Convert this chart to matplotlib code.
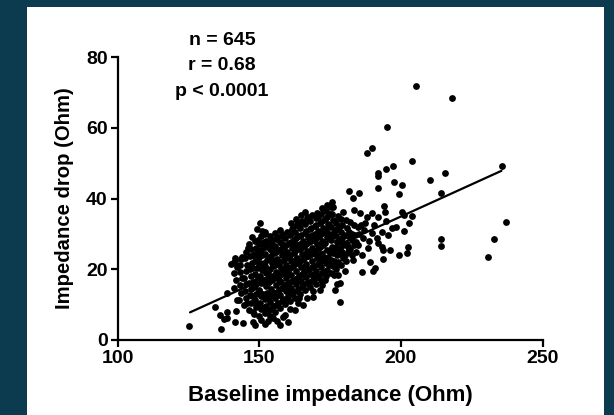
import matplotlib
matplotlib.use("Agg")
import matplotlib.pyplot as plt

plt.rcParams['font.family'] = ['Liberation Sans', 'DejaVu Sans']

# ---- data ----
core = [
    (141.2,14.6),(141.8,16.9),(141.0,18.8),(142.1,20.7),(141.6,22.3),
    (143.0,11.4),(143.6,13.2),(143.2,15.5),(143.9,17.4),(143.4,19.3),(143.1,21.2),(143.7,23.0),
    (144.8,9.8),(145.3,12.0),(145.0,13.9),(145.5,15.7),(144.7,17.6),(145.2,19.5),(145.6,21.3),(144.9,23.2),(145.4,24.9),
    (146.5,8.6),(147.1,10.5),(146.7,12.6),(147.2,14.3),(146.4,16.1),(147.0,18.2),(146.6,20.0),(147.3,21.9),(146.8,23.7),(147.1,25.6),(146.5,27.0),
    (148.3,7.4),(148.9,9.3),(148.5,11.2),(149.0,13.0),(148.2,14.9),(148.8,16.8),(148.4,18.6),(149.1,20.4),(148.6,22.3),(148.3,24.1),(148.9,26.0),(148.5,28.1),
    (150.1,6.8),(150.7,8.7),(150.3,10.6),(150.8,12.4),(150.0,14.2),(150.6,16.1),(150.2,18.0),(150.9,19.8),(150.4,21.7),(150.1,23.6),(150.7,25.4),(150.3,27.2),(150.8,29.3),
    (151.9,7.5),(152.5,9.6),(152.0,11.5),(152.6,13.3),(152.3,15.2),(151.8,17.0),(152.4,18.9),(152.1,20.8),(152.7,22.6),(152.2,24.4),(151.9,26.3),(152.5,28.0),(152.0,29.9),
    (153.7,6.9),(154.3,8.9),(153.9,10.7),(154.4,12.6),(154.1,14.5),(153.6,16.3),(154.2,18.2),(153.8,20.1),(154.5,21.9),(154.0,23.8),(153.7,25.6),(154.3,27.5),(153.9,29.3),
    (155.5,8.0),(156.1,10.0),(155.7,11.8),(156.2,13.7),(155.9,15.6),(155.4,17.4),(156.0,19.3),(155.6,21.2),(156.3,23.0),(155.8,24.9),(155.5,26.7),(156.1,28.6),(155.7,30.3),
    (157.3,9.0),(157.9,10.9),(157.5,12.8),(158.0,14.7),(157.7,16.5),(157.2,18.4),(157.8,20.3),(157.4,22.1),(158.1,24.0),(157.6,25.8),(157.3,27.7),(157.9,29.5),(157.5,31.2),
    (159.1,10.1),(159.7,12.0),(159.3,13.9),(159.8,15.7),(159.5,17.6),(159.0,19.5),(159.6,21.3),(159.2,23.2),(159.9,25.0),(159.4,26.9),(159.1,28.7),(159.7,30.6),
    (160.9,11.0),(161.5,12.9),(161.1,14.8),(161.6,16.6),(161.3,18.5),(160.8,20.4),(161.4,22.2),(161.0,24.1),(161.7,25.9),(161.2,27.8),(160.9,29.6),(161.5,31.4),(161.1,33.0),
    (162.7,12.0),(163.3,13.9),(162.9,15.8),(163.4,17.6),(163.1,19.5),(162.6,21.4),(163.2,23.2),(162.8,25.1),(163.5,26.9),(163.0,28.8),(162.7,30.6),(163.3,32.5),(162.9,34.2),
    (164.5,13.0),(165.1,14.9),(164.7,16.8),(165.2,18.6),(164.9,20.5),(164.4,22.4),(165.0,24.2),(164.6,26.1),(165.3,27.9),(164.8,29.8),(164.5,31.6),(165.1,33.5),(164.7,35.2),
    (166.3,14.1),(166.9,16.0),(166.5,17.9),(167.0,19.7),(166.7,21.6),(166.2,23.5),(166.8,25.3),(166.4,27.2),(167.1,29.0),(166.6,30.9),(166.3,32.7),(166.9,34.6),
    (168.1,14.9),(168.7,16.8),(168.3,18.7),(168.8,20.5),(168.5,22.4),(168.0,24.3),(168.6,26.1),(168.2,28.0),(168.9,29.8),(168.4,31.7),(168.1,33.5),(168.7,35.4),
    (169.9,15.8),(170.5,17.7),(170.1,19.6),(170.6,21.4),(170.3,23.3),(169.8,25.2),(170.4,27.0),(170.0,28.9),(170.7,30.7),(170.2,32.6),(169.9,34.4),(170.5,36.0),
    (171.7,16.9),(172.3,18.8),(171.9,20.7),(172.4,22.5),(172.1,24.4),(171.6,26.3),(172.2,28.1),(171.8,30.0),(172.5,31.8),(172.0,33.7),(171.7,35.5),(172.3,37.2),
    (173.5,18.0),(174.1,19.9),(173.7,21.8),(174.2,23.6),(173.9,25.5),(173.4,27.4),(174.0,29.2),(173.6,31.1),(174.3,32.9),(173.8,34.8),(173.5,36.6),(174.1,38.3),
    (175.3,18.9),(175.9,20.8),(175.5,22.7),(176.0,24.5),(175.7,26.4),(175.2,28.3),(175.8,30.1),(175.4,32.0),(176.1,33.8),(175.6,35.7),(175.3,37.5),
    (177.1,20.1),(177.7,22.0),(177.3,23.9),(177.8,25.7),(177.5,27.6),(177.0,29.5),(177.6,31.3),(177.2,33.2),(177.9,35.0),
    (178.9,21.2),(179.5,23.1),(179.1,25.0),(179.6,26.8),(179.3,28.7),(178.8,30.6),(179.4,32.4),(179.0,34.3),
    (180.7,22.4),(181.3,24.8),(180.9,27.1),(181.4,29.3),(181.1,31.6),(180.6,33.8),
    (182.8,23.9),(183.4,26.8),(182.9,30.1),(183.5,32.6),
]

core_fill = [
    (147.6,12.5),(147.9,16.4),(147.5,20.3),(147.8,24.0),
    (149.4,10.0),(149.8,13.8),(149.5,17.5),(149.9,21.2),(149.3,25.0),(149.7,28.3),
    (151.2,9.0),(151.5,12.9),(151.1,16.6),(151.4,20.2),(151.0,24.0),(151.6,27.6),
    (153.0,8.2),(153.3,11.9),(152.9,15.8),(153.2,19.4),(153.4,23.1),(152.8,26.8),
    (154.8,9.5),(155.1,13.3),(154.7,17.0),(155.0,20.8),(155.2,24.6),(154.6,28.3),
    (156.6,10.4),(156.9,14.1),(156.5,18.0),(156.8,21.6),(157.0,25.4),(156.4,29.0),
    (158.4,11.5),(158.7,15.2),(158.3,18.9),(158.6,22.6),(158.8,26.3),(158.2,30.0),
    (160.2,12.4),(160.5,16.2),(160.1,19.9),(160.4,23.6),(160.6,27.3),
    (162.0,13.5),(162.3,17.1),(161.9,20.9),(162.2,24.6),(162.4,28.3),(161.8,32.0),
    (163.8,14.3),(164.1,18.1),(163.7,21.8),(164.0,25.6),(164.2,29.3),(163.6,33.0),
    (165.6,15.5),(165.9,19.2),(165.5,22.9),(165.8,26.6),(166.0,30.3),
    (167.4,16.3),(167.7,20.0),(167.3,23.8),(167.6,27.6),(167.8,31.3),(167.2,34.9),
    (169.2,17.2),(169.5,21.0),(169.1,24.7),(169.4,28.4),(169.6,32.1),
    (171.0,18.2),(171.3,22.0),(170.9,25.8),(171.2,29.5),(171.4,33.1),
    (172.8,19.3),(173.1,23.1),(172.7,26.8),(173.0,30.6),(173.2,34.3),
    (174.6,21.2),(174.9,25.0),(174.5,28.8),(174.8,32.5),
    (176.4,22.4),(176.7,26.1),(176.3,29.9),(176.6,33.6),
    (178.2,24.4),(178.5,28.2),(178.1,31.9),
]

core_scatter = [
    (149.0,15.8),(151.7,21.9),(153.4,17.2),(155.2,22.2),(156.6,12.8),(158.9,24.4),(160.6,14.0),
    (161.9,26.8),(163.5,16.7),(164.3,27.1),(165.9,20.6),(167.3,25.0),(168.9,18.0),(169.6,29.9),
    (171.2,23.4),(172.6,27.3),(173.3,17.0),(174.7,30.0),(175.9,25.6),(176.8,31.0),(177.6,21.1),
    (178.6,26.0),(179.9,29.8),(180.2,24.0),(181.8,30.6),(182.2,25.6),(184.0,27.8),(185.3,30.0),
    (184.2,24.8),(186.0,32.4),(153.1,13.1),(154.6,25.3),(156.9,16.9),(158.0,27.0),(159.9,18.6),
    (161.3,30.3),(162.6,22.5),(164.0,12.0),(165.6,33.0),(167.9,29.5),(166.0,18.0),(170.8,35.0),
    (169.0,13.9),(172.0,15.5),(174.9,35.6),(176.5,18.3),(150.9,30.8),(149.2,31.5),(147.6,29.2),
    (146.0,26.1),(145.6,10.4),(147.9,8.0),(150.5,5.7),(153.2,5.5),(155.0,6.2),(156.4,5.3),
    (159.2,7.2),(161.0,8.7),(163.8,10.5),(167.0,12.0),
]

fringe = [
    (183.5,36.7),(185.6,35.9),(189.8,35.9),(192.0,34.7),(188.1,34.7),(194.4,36.2),(193.3,30.5),
    (195.5,29.7),(192.0,27.4),(193.7,25.4),(196.2,25.4),(193.3,26.3),(188.4,26.0),(186.3,24.0),
    (189.1,22.0),(183.1,22.6),(181.4,26.3),(183.8,29.7),(184.9,31.9),(182.1,33.3),(187.4,33.0),
    (189.8,30.2),(186.7,28.8),(182.8,28.2),(190.9,20.3),(186.3,19.2),(190.2,19.5),
    (187.0,31.2),(190.5,32.4),(191.5,28.9),(185.0,26.9),(188.9,28.0),(194.8,33.5),(196.8,31.8),
    (138.6,13.3),(134.4,9.3),(136.2,7.1),(138.7,6.2),(137.6,5.9),(138.7,7.8),(141.9,8.3),
    (141.5,5.1),(144.3,4.8),(147.7,5.0),(148.5,4.2),(152.0,4.5),(142.2,11.3),(157.4,4.2),
    (160.2,5.1),(162.6,8.5),(165.5,9.9),(158.4,6.5),(169.0,12.1),(171.5,14.1),(177.8,18.4),
    (178.5,16.1),(177.4,15.8),(176.7,14.1),(180.2,19.6),
    (175.7,39.0),(176.0,37.6),(179.6,36.2),(166.2,36.2),(150.3,33.0),(152.0,30.5),
    (140.8,21.8),(140.1,21.5),(141.5,23.3),(144.0,23.4),(149.6,27.7),
]

outliers = [
    (205.4,71.8),(218.1,68.4),(195.1,60.2),(189.8,54.2),(188.1,52.8),(203.9,50.6),(235.7,49.2),
    (197.2,49.2),(194.8,48.3),(191.9,47.2),(192.0,46.5),(215.6,47.2),(210.3,45.2),(197.6,44.6),
    (200.4,43.8),(191.9,42.9),(214.2,41.5),(199.4,41.2),(181.7,42.1),(185.2,41.5),(183.2,40.1),
    (194.1,37.9),(200.4,36.2),(201.0,35.2),(204.0,35.0),(202.9,33.1),(198.3,31.9),(201.1,30.8),
    (237.1,33.3),(232.9,28.5),(214.2,28.5),(214.2,26.6),(202.5,26.3),(202.2,24.6),(199.4,24.0),
    (230.8,23.4),(193.7,22.9),(178.5,10.8),(125.3,4.0),(136.6,3.1),
]

all_points = core + core_fill + core_scatter + fringe + outliers
baseline_impedance = [p[0] for p in all_points]
impedance_drop = [p[1] for p in all_points]

fit_slope = 0.364
fit_intercept = -37.9
fit_range = [125.6, 235.5]

stats_text = ["n = 645", "r = 0.68", "p < 0.0001"]
x_ticks = [100, 150, 200, 250]
y_ticks = [0, 20, 40, 60, 80]

# ---- figure ----
fig = plt.figure(figsize=(6.14, 4.15), dpi=100)
fig.patch.set_facecolor('#0c3a4e')
bg = fig.add_axes([27/614, 0, (604-27)/614, 1 - 7/415], zorder=-10)
bg.set_facecolor('white')
bg.set_xticks([])
bg.set_yticks([])
for s in bg.spines.values():
    s.set_visible(False)

ax = fig.add_axes([117.5/614, 1 - 340/415, 425/614, 283/415])
ax.set_facecolor('none')

ax.scatter(baseline_impedance, impedance_drop, s=24, c='black', linewidths=0, zorder=3, clip_on=False)
fx = fit_range
fy = [fit_intercept + fit_slope * v for v in fx]
ax.plot(fx, fy, color='black', lw=1.6, zorder=4, solid_capstyle='round')

ax.set_xlim(100, 250)
ax.set_ylim(0, 80)
ax.set_xticks(x_ticks)
ax.set_yticks(y_ticks)
for s in ['top', 'right']:
    ax.spines[s].set_visible(False)
for s in ['left', 'bottom']:
    ax.spines[s].set_linewidth(1.6)
ax.tick_params(direction='out', length=5, width=1.6, labelsize=14, pad=2)
for lab in ax.get_xticklabels() + ax.get_yticklabels():
    lab.set_fontweight('bold')

ax.set_xlabel('Baseline impedance (Ohm)', fontsize=16, fontweight='bold', labelpad=13)
ax.set_ylabel('Impedance drop (Ohm)', fontsize=14.6, fontweight='bold', labelpad=9)

ax.text(222/614, 1 - 66/415, "\n".join(stats_text), transform=fig.transFigure,
        ha='center', va='center', multialignment='center', fontsize=14,
        fontweight='bold', linespacing=1.62)

fig.savefig('out.png', dpi=100, facecolor=fig.get_facecolor())
